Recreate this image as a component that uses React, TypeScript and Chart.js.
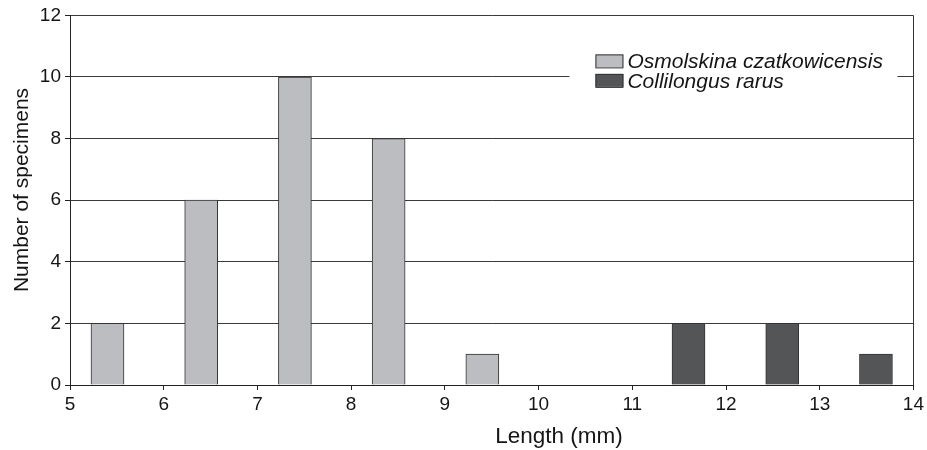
import React, { useEffect, useRef } from "react";
import { Chart, registerables } from "chart.js";

Chart.register(...registerables);

// ---- data ----
const osmolskinaLengths = [5.4, 6.4, 7.4, 8.4, 9.4];
const osmolskinaCounts = [2, 6, 10, 8, 1];
const collilongusLengths = [11.6, 12.6, 13.6];
const collilongusCounts = [2, 2, 1];
const seriesLabels = ["Osmolskina czatkowicensis", "Collilongus rarus"];
const seriesColors = ["#bcbdc1", "#545557"];
const xTitle = "Length (mm)";
const yTitle = "Number of specimens";
const xMin = 5;
const xMax = 14;
const yMin = 0;
const yMax = 12;
const yStep = 2;

const FONT = "'Liberation Sans', Arial, Helvetica, sans-serif";

const overlayPlugin = {
  id: "overlay",
  afterDatasetsDraw(chart: any) {
    const { ctx, chartArea: ca } = chart;
    ctx.save();
    // legend background (covers grid line)
    ctx.fillStyle = "#ffffff";
    ctx.fillRect(ca.right - 344, ca.top + 32, 328, 62);
    const boxX = ca.right - 318;
    const rows = [ca.top + 39, ca.top + 58.5];
    chart.data.datasets.forEach((ds: any, i: number) => {
      const y = rows[i];
      ctx.fillStyle = ds.backgroundColor;
      ctx.fillRect(boxX, y, 28, 13);
      ctx.strokeStyle = "#333";
      ctx.lineWidth = 1;
      ctx.strokeRect(boxX + 0.5, y + 0.5, 27, 13);
      ctx.fillStyle = "#151515";
      ctx.font = `italic 21px ${FONT}`;
      ctx.textAlign = "left";
      ctx.textBaseline = "alphabetic";
      ctx.fillText(ds.label, boxX + 32, y + 14);
    });
    // axis titles
    ctx.fillStyle = "#151515";
    ctx.font = `22.5px ${FONT}`;
    ctx.textAlign = "center";
    ctx.textBaseline = "alphabetic";
    ctx.fillText(xTitle, 559, 443);
    ctx.translate(28, 190);
    ctx.rotate(-Math.PI / 2);
    ctx.font = `21px ${FONT}`;
    ctx.fillText(yTitle, 0, 0);
    ctx.restore();
  },
};

export default function App() {
  const canvasRef = useRef<HTMLCanvasElement | null>(null);

  useEffect(() => {
    if (!canvasRef.current) return;
    Chart.defaults.font.family = FONT;
    const chart = new Chart(canvasRef.current, {
      type: "bar",
      data: {
        datasets: [
          {
            label: seriesLabels[0],
            data: osmolskinaLengths.map((x, i) => ({ x, y: osmolskinaCounts[i] })),
            backgroundColor: seriesColors[0],
            borderColor: "#333333",
            borderWidth: 1,
            barThickness: 33,
            grouped: false,
          } as any,
          {
            label: seriesLabels[1],
            data: collilongusLengths.map((x, i) => ({ x, y: collilongusCounts[i] })),
            backgroundColor: seriesColors[1],
            borderColor: "#333333",
            borderWidth: 1,
            barThickness: 33,
            grouped: false,
          } as any,
        ],
      },
      options: {
        animation: false,
        responsive: true,
        maintainAspectRatio: false,
        layout: { padding: { top: 13, right: 13, left: 0, bottom: 0 } },
        plugins: {
          legend: { display: false },
          tooltip: { enabled: false },
        },
        scales: {
          x: {
            type: "linear",
            min: xMin,
            max: xMax,
            offset: false,
            ticks: {
              stepSize: 1,
              color: "#151515",
              font: { size: 19 },
              padding: 3,
              maxRotation: 0,
              autoSkip: false,
            },
            grid: {
              offset: false,
              color: (c: any) => (c.tick && c.tick.value === xMax ? "#333333" : "rgba(0,0,0,0)"),
              tickColor: "#222222",
              tickLength: 5,
              drawOnChartArea: true,
              lineWidth: 1,
            },
            border: { display: true, color: "#222222", width: 1 },
            afterFit: (s: any) => {
              s.height = 65;
            },
          },
          y: {
            min: yMin,
            max: yMax,
            ticks: {
              stepSize: yStep,
              color: "#151515",
              font: { size: 19 },
              padding: 4,
            },
            grid: {
              color: "#3a3a3a",
              tickColor: "#222222",
              tickLength: 5,
              lineWidth: 1,
            },
            border: { display: true, color: "#222222", width: 1 },
            afterFit: (s: any) => {
              s.width = 70;
            },
          },
        },
      } as any,
      plugins: [overlayPlugin],
    });
    return () => chart.destroy();
  }, []);

  return (
    <div style={{ position: "absolute", left: 0, top: 0, width: 927, height: 450, background: "#fff" }}>
      <canvas ref={canvasRef} />
    </div>
  );
}
